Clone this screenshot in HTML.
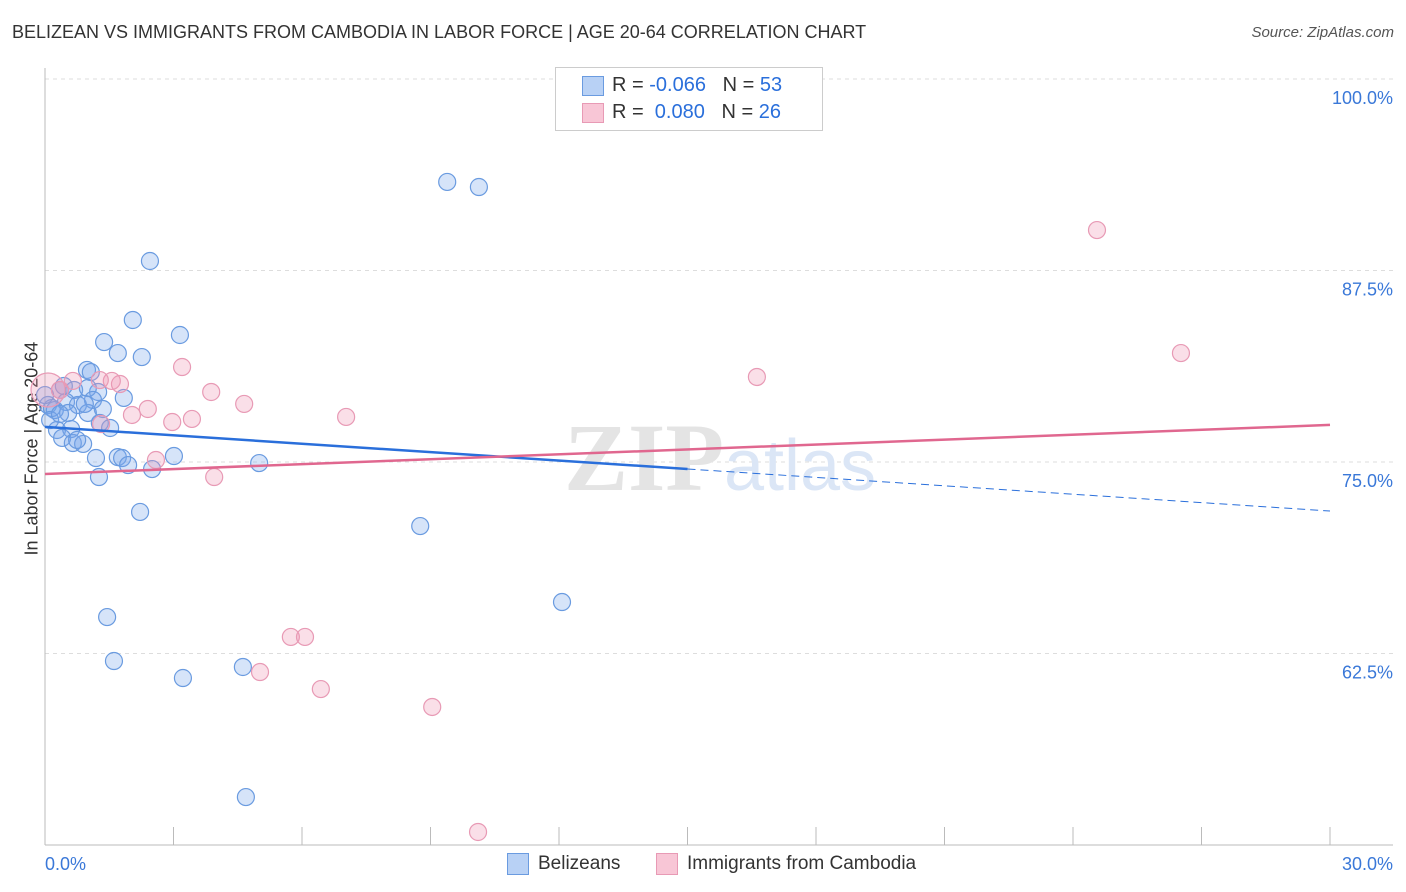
<!DOCTYPE html>
<html><head><meta charset="utf-8">
<style>
body{margin:0;background:#fff;font-family:"Liberation Sans",sans-serif;}
#wrap{position:relative;width:1406px;height:892px;overflow:hidden;}
.t{position:absolute;white-space:nowrap;}
</style></head>
<body>
<div id="wrap">
<div class="t" style="left:12px;top:22px;font-size:18px;color:#333;">BELIZEAN VS IMMIGRANTS FROM CAMBODIA IN LABOR FORCE | AGE 20-64 CORRELATION CHART</div>
<div class="t" style="right:12px;top:24px;font-size:15px;color:#555;font-style:italic;">Source: ZipAtlas.com</div>
<div class="t" style="left:-68px;top:445px;font-size:18px;color:#333;transform:rotate(-90deg);transform-origin:center;width:200px;text-align:center;">In Labor Force | Age 20-64</div>
<svg id="plot" width="1406" height="892" style="position:absolute;left:0;top:0"></svg>
<div style="position:absolute;left:555px;top:67px;width:266px;height:62px;border:1px solid #ccc;background:#fff;">
 <div style="position:absolute;left:26px;top:8px;width:20px;height:18px;background:#b8d1f5;border:1px solid #6a9be0;"></div>
 <div class="t" style="left:56px;top:6px;font-size:20px;color:#333;">R = <span style="color:#2a6fdb">-0.066</span>&nbsp;&nbsp;&nbsp;N = <span style="color:#2a6fdb">53</span></div>
 <div style="position:absolute;left:26px;top:35px;width:20px;height:18px;background:#f8c6d6;border:1px solid #e89ab5;"></div>
 <div class="t" style="left:56px;top:33px;font-size:20px;color:#333;">R = &nbsp;<span style="color:#2a6fdb">0.080</span>&nbsp;&nbsp;&nbsp;N = <span style="color:#2a6fdb">26</span></div>
</div>
<div>
 <div style="position:absolute;left:507px;top:853px;width:20px;height:20px;background:#b8d1f5;border:1px solid #6a9be0;"></div>
 <div class="t" style="left:538px;top:853px;font-size:19px;color:#333;">Belizeans</div>
 <div style="position:absolute;left:656px;top:853px;width:20px;height:20px;background:#f8c6d6;border:1px solid #e89ab5;"></div>
 <div class="t" style="left:687px;top:853px;font-size:19px;color:#333;">Immigrants from Cambodia</div>
</div>
</div>
<script>
const blueX=[9.39,10.13,2.45,2.05,3.15,1.38,1.70,2.26,0.98,1.07,0.35,0.68,1.24,1.00,1.84,1.12,0.49,0.77,1.35,0.07,0.23,0.16,1.00,0.54,1.28,1.52,0.28,0.61,0.40,0.65,0.89,1.19,1.70,1.80,1.94,2.50,3.01,5.00,1.26,2.22,8.76,12.07,1.45,1.61,4.62,3.22,4.69,0,0.12,0.75,0.93,0.35,0.44];
const blueY=[93.28,92.95,88.12,84.27,83.29,82.83,82.11,81.85,81.01,80.87,79.70,79.70,79.57,79.83,79.18,79.05,78.92,78.72,78.46,78.72,78.39,78.52,78.20,78.20,77.55,77.22,77.09,77.15,76.57,76.24,76.18,75.26,75.32,75.26,74.80,74.54,75.39,74.93,74.02,71.74,70.82,65.86,64.88,62.01,61.62,60.90,53.13,79.37,77.74,76.44,78.79,78.13,79.96];
const pinkX=[24.56,26.52,16.62,3.20,3.88,4.65,1.75,1.56,0.65,1.28,0.35,2.40,2.03,3.43,2.97,1.31,7.03,2.59,3.95,5.74,6.07,5.02,6.44,9.04,10.11,0.07];
const pinkY=[90.14,82.11,80.55,81.20,79.57,78.79,80.09,80.29,80.29,80.35,79.70,78.46,78.07,77.81,77.61,77.48,77.94,75.13,74.02,63.58,63.58,61.29,60.18,59.01,50.85,79.70];
const blueTrend=[77.29,71.80];
const pinkTrend=[74.22,77.42];
const yTicks=[100,87.5,75,62.5];
const yTickLabels=["100.0%","87.5%","75.0%","62.5%"];
const xTickLabels=["0.0%","30.0%"];
const X=v=>45+v*1285/30, Y=v=>79+(100-v)*15.32;
const svg=document.getElementById('plot'),NS='http://www.w3.org/2000/svg';
function el(t,a,name){const e=document.createElementNS(NS,t);for(const k in a)e.setAttribute(k,a[k]);


svg.appendChild(e);return e;}
yTicks.forEach((v,i)=>{el('line',{x1:45,x2:1393,y1:Y(v),y2:Y(v),stroke:'#ddd','stroke-dasharray':'4,4'},'gridline');
const t=el('text',{x:1393,y:Y(v)+25,'text-anchor':'end','font-size':18,fill:'#3a78d8','font-family':'Liberation Sans'},'y-tick-label');t.textContent=yTickLabels[i];});
el('line',{x1:45,x2:45,y1:68,y2:845,stroke:'#bbb'},'y-axis');
el('line',{x1:45,x2:1393,y1:845,y2:845,stroke:'#bbb'},'x-axis');
for(let i=0;i<=10;i++)el('line',{x1:X(i*3),x2:X(i*3),y1:827,y2:845,stroke:'#bbb'},'x-tick');
let t=el('text',{x:45,y:870,'font-size':18,fill:'#3a78d8','font-family':'Liberation Sans'},'x-tick-label');t.textContent=xTickLabels[0];
t=el('text',{x:1393,y:870,'text-anchor':'end','font-size':18,fill:'#3a78d8','font-family':'Liberation Sans'},'x-tick-label');t.textContent=xTickLabels[1];
t=el('text',{x:720,y:490,'text-anchor':'middle','font-size':96,fill:'#e4e4e4','font-family':'Liberation Serif','font-weight':'bold'},'watermark');t.innerHTML='ZIP<tspan fill="#dbe6f6" font-family="Liberation Sans" font-weight="normal" font-size="72">atlas</tspan>';
blueX.forEach((x,i)=>el('circle',{cx:X(x),cy:Y(blueY[i]),r:8.5,fill:'rgba(120,165,235,0.3)',stroke:'#6a9be0','stroke-width':1.2},'belizean-point'));
pinkX.forEach((x,i)=>el('circle',{cx:X(x),cy:Y(pinkY[i]),r:i==pinkX.length-1?17:8.5,fill:'rgba(240,150,180,0.3)',stroke:'#e89ab5','stroke-width':1.2},'cambodia-point'));
const bAt=v=>blueTrend[0]+(blueTrend[1]-blueTrend[0])*v/30;
el('line',{x1:X(0),y1:Y(bAt(0)),x2:X(15),y2:Y(bAt(15)),stroke:'#2a6fdb','stroke-width':2.5},'belizean-trend-line');
el('line',{x1:X(15),y1:Y(bAt(15)),x2:X(30),y2:Y(bAt(30)),stroke:'#2a6fdb','stroke-width':1,'stroke-dasharray':'8,5'},'belizean-trend-extension');
el('line',{x1:X(0),y1:Y(pinkTrend[0]),x2:X(30),y2:Y(pinkTrend[1]),stroke:'#e0678f','stroke-width':2.5},'cambodia-trend-line');
</script>
</body></html>
